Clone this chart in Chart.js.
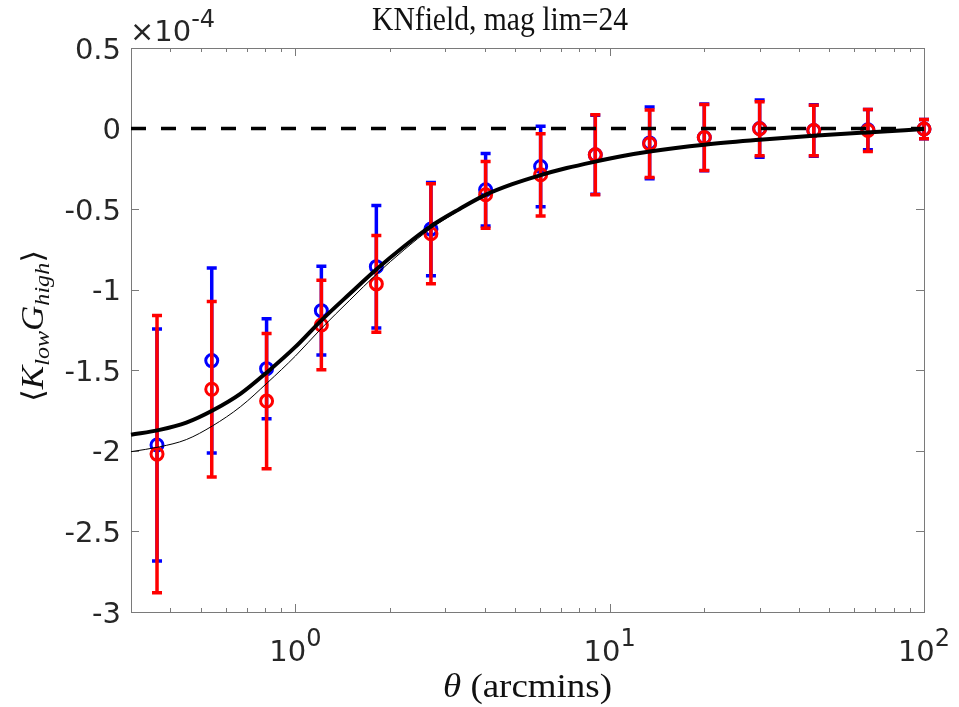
<!DOCTYPE html>
<html>
<head>
<meta charset="utf-8">
<script src="https://cdn.jsdelivr.net/npm/chart.js@4.4.1/dist/chart.umd.min.js"></script>
<style>
  html, body { margin: 0; padding: 0; background: #fff; }
  canvas { display: block; }
</style>
</head>
<body>
<canvas id="kg" width="959" height="707"></canvas>
<script>
// angular bins, arcmin
const theta = [0.363, 0.542, 0.81, 1.21, 1.81, 2.70, 4.03, 6.03, 9.0, 13.4, 20.0, 30.0, 44.6, 66.3, 100];

// <K_low G_high>, units of 1e-4
const blueVals = [-1.964, -1.44, -1.49, -1.13, -0.857, -0.624, -0.38, -0.235, -0.163, -0.089, -0.055, 0.0, -0.012, -0.007, -0.003];
const blueErr  = [0.72, 0.574, 0.31, 0.275, 0.38, 0.29, 0.225, 0.25, 0.245, 0.223, 0.207, 0.178, 0.16, 0.125, 0.06];
const redVals  = [-2.02, -1.618, -1.691, -1.219, -0.964, -0.653, -0.411, -0.287, -0.163, -0.094, -0.055, -0.001, -0.012, -0.012, -0.003];
const redErr   = [0.86, 0.545, 0.42, 0.278, 0.30, 0.31, 0.207, 0.255, 0.248, 0.21, 0.205, 0.168, 0.156, 0.131, 0.06];

// model predictions
const modelTheta = [0.3, 0.37, 0.45, 0.545, 0.67, 0.815, 1.0, 1.21, 1.49, 1.82, 2.22, 2.7, 3.32, 4.04, 4.9, 6.0, 7.3, 9.0, 11.0, 13.4, 20, 30, 44.4, 65.6, 100];
const modelThick = [-1.90, -1.87, -1.825, -1.75, -1.645, -1.51, -1.355, -1.19, -1.025, -0.87, -0.73, -0.605, -0.50, -0.41, -0.345, -0.29, -0.245, -0.205, -0.17, -0.142, -0.10, -0.07, -0.045, -0.024, -0.003];
const modelThin  = [-2.005, -1.975, -1.93, -1.845, -1.725, -1.577, -1.412, -1.24, -1.065, -0.90, -0.752, -0.62, -0.508, -0.414, -0.345, -0.29, -0.245, -0.205, -0.17, -0.142, -0.10, -0.07, -0.045, -0.024, -0.003];

const zeroX = [0.3, 100];
const zeroY = [0, 0];

const yTicks = [0.5, 0, -0.5, -1, -1.5, -2, -2.5, -3];
const yTickLabels = ['0.5', '0', '-0.5', '-1', '-1.5', '-2', '-2.5', '-3'];
const xMajor = [1, 10, 100];
const xMajorExp = ['0', '1', '2'];
const xMinor = [0.4, 0.5, 0.6, 0.7, 0.8, 0.9, 2, 3, 4, 5, 6, 7, 8, 9, 20, 30, 40, 50, 60, 70, 80, 90];

const titleText = 'KNfield, mag lim=24';

const pts = (xs, ys) => xs.map((x, i) => ({ x: x, y: ys[i] }));

const LABEL = '#262626';
const AXIS = '#7a7a7a';

function scaledText(ctx, text, x, y, font, align, targetW) {
    ctx.save();
    ctx.font = font;
    const w = ctx.measureText(text).width;
    const sx = targetW ? targetW / w : 1;
    ctx.translate(x, y);
    ctx.scale(sx, 1);
    ctx.textAlign = align;
    ctx.textBaseline = 'alphabetic';
    ctx.fillText(text, 0, 0);
    ctx.restore();
}

// vertical error bars with caps, drawn under each dataset's markers
const errorBars = {
    id: 'errorBars',
    beforeDatasetDraw(chart, args) {
        const ds = chart.data.datasets[args.index];
        if (!ds.errors) return;
        const { ctx, scales: { x, y } } = chart;
        ctx.save();
        ctx.strokeStyle = ds.borderColor;
        ctx.lineWidth = 3.5;
        ctx.lineCap = 'butt';
        ds.data.forEach((p, i) => {
            const e = ds.errors[i];
            const px = x.getPixelForValue(p.x);
            const top = y.getPixelForValue(p.y + e);
            const bot = y.getPixelForValue(p.y - e);
            ctx.beginPath();
            ctx.moveTo(px, top);
            ctx.lineTo(px, bot);
            ctx.moveTo(px - 5, top);
            ctx.lineTo(px + 5, top);
            ctx.moveTo(px - 5, bot);
            ctx.lineTo(px + 5, bot);
            ctx.stroke();
        });
        ctx.restore();
    }
};

// box, ticks, tick labels, title and axis labels
const frame = {
    id: 'frame',
    beforeDatasetsDraw(chart) {
        const { ctx, chartArea: a, scales: { x, y } } = chart;
        ctx.save();
        ctx.strokeStyle = AXIS;
        ctx.lineWidth = 1;
        ctx.strokeRect(a.left + 0.5, a.top + 0.5, a.right - a.left, a.bottom - a.top);
        ctx.beginPath();
        const xt = (v, len) => {
            const px = Math.round(x.getPixelForValue(v)) + 0.5;
            ctx.moveTo(px, a.bottom); ctx.lineTo(px, a.bottom - len);
            ctx.moveTo(px, a.top); ctx.lineTo(px, a.top + len);
        };
        xMajor.forEach(v => xt(v, 8));
        xMinor.forEach(v => xt(v, 4));
        yTicks.forEach(v => {
            const py = Math.round(y.getPixelForValue(v)) + 0.5;
            ctx.moveTo(a.left, py); ctx.lineTo(a.left + 8, py);
            ctx.moveTo(a.right, py); ctx.lineTo(a.right - 8, py);
        });
        ctx.stroke();
        ctx.restore();
    },
    afterDraw(chart) {
        const { ctx, chartArea: a, scales: { x, y } } = chart;
        ctx.save();
        ctx.fillStyle = LABEL;

        // y tick labels
        ctx.font = '29px "DejaVu Sans"';
        ctx.textAlign = 'right';
        ctx.textBaseline = 'alphabetic';
        yTicks.forEach((v, i) => {
            ctx.fillText(yTickLabels[i], a.left - 10, y.getPixelForValue(v) + 10.5);
        });

        // x tick labels 10^n
        ctx.textAlign = 'left';
        xMajor.forEach((v, i) => {
            const px = x.getPixelForValue(v);
            ctx.font = '29px "DejaVu Sans"';
            const w1 = ctx.measureText('10').width;
            ctx.font = '24px "DejaVu Sans"';
            const w2 = ctx.measureText(xMajorExp[i]).width;
            const x0 = px - (w1 + w2) / 2;
            ctx.font = '29px "DejaVu Sans"';
            ctx.fillText('10', x0, a.bottom + 49);
            ctx.font = '24px "DejaVu Sans"';
            ctx.fillText(xMajorExp[i], x0 + w1, a.bottom + 34);
        });

        // exponent of the y axis
        ctx.font = '29px "DejaVu Sans"';
        ctx.fillText('\u00d7', a.left - 1, a.top - 7);
        const wx = ctx.measureText('\u00d7').width;
        ctx.fillText('10', a.left - 1 + wx, a.top - 7);
        const w10 = ctx.measureText('10').width;
        ctx.font = '24px "DejaVu Sans"';
        ctx.fillText('-4', a.left - 1 + wx + w10, a.top - 21);

        // title and x label
        ctx.fillStyle = '#111';
        scaledText(ctx, titleText, 500, 30, '33px "Liberation Serif"', 'center', 256);

        ctx.font = 'italic 33px "Liberation Serif"';
        const wt = ctx.measureText('\u03b8').width;
        ctx.font = '33px "Liberation Serif"';
        const wr = ctx.measureText(' (arcmins)').width;
        const sx = 169 / (wt + wr);
        ctx.save();
        ctx.translate(443, 697);
        ctx.scale(sx, 1);
        ctx.textAlign = 'left';
        ctx.font = 'italic 33px "Liberation Serif"';
        ctx.fillText('\u03b8', 0, 0);
        ctx.font = '33px "Liberation Serif"';
        ctx.fillText(' (arcmins)', wt, 0);
        ctx.restore();

        // y label <K_low G_high>, rotated
        const parts = [
            ['\u27e8', '30px "DejaVu Serif"', 0],
            ['K', 'italic 32px "Liberation Serif"', 0],
            ['low', 'italic 22px "Liberation Serif"', 6],
            ['G', 'italic 32px "Liberation Serif"', 0],
            ['high', 'italic 22px "Liberation Serif"', 6],
            ['\u27e9', '30px "DejaVu Serif"', 0]
        ];
        let total = 0;
        parts.forEach(p => { ctx.font = p[1]; p.push(ctx.measureText(p[0]).width); total += p[3]; });
        const sy = 152 / total;
        ctx.save();
        ctx.translate(43, 326);
        ctx.rotate(-Math.PI / 2);
        ctx.scale(sy, 1);
        ctx.textAlign = 'left';
        let cx = -total / 2;
        parts.forEach(p => {
            ctx.font = p[1];
            ctx.fillText(p[0], cx, p[2]);
            cx += p[3];
        });
        ctx.restore();

        ctx.restore();
    }
};

new Chart(document.getElementById('kg').getContext('2d'), {
    type: 'scatter',
    data: {
        datasets: [
            {
                data: pts(zeroX, zeroY), showLine: true, order: 0, clip: false,
                borderColor: '#000', borderWidth: 3.5, borderDash: [15, 15], pointRadius: 0
            },
            {
                data: pts(modelTheta, modelThick), showLine: true, order: 0, clip: false,
                borderColor: '#000', borderWidth: 4, pointRadius: 0, cubicInterpolationMode: 'monotone'
            },
            {
                data: pts(modelTheta, modelThin), showLine: true, order: 0, clip: false,
                borderColor: '#000', borderWidth: 1, pointRadius: 0, cubicInterpolationMode: 'monotone'
            },
            {
                data: pts(theta, redVals), errors: redErr, order: 1, clip: false,
                borderColor: '#ff0000', backgroundColor: 'rgba(0,0,0,0)',
                pointRadius: 6, pointBorderWidth: 3
            },
            {
                data: pts(theta, blueVals), errors: blueErr, order: 2, clip: false,
                borderColor: '#0000ff', backgroundColor: 'rgba(0,0,0,0)',
                pointRadius: 6, pointBorderWidth: 3
            }
        ]
    },
    options: {
        responsive: false,
        animation: false,
        events: [],
        layout: { padding: { left: 131, right: 35, top: 48, bottom: 95 } },
        scales: {
            x: { type: 'logarithmic', min: 0.3, max: 100, display: false },
            y: { type: 'linear', min: -3, max: 0.5, display: false }
        },
        plugins: { legend: { display: false }, tooltip: { enabled: false } }
    },
    plugins: [errorBars, frame]
});
</script>
</body>
</html>
